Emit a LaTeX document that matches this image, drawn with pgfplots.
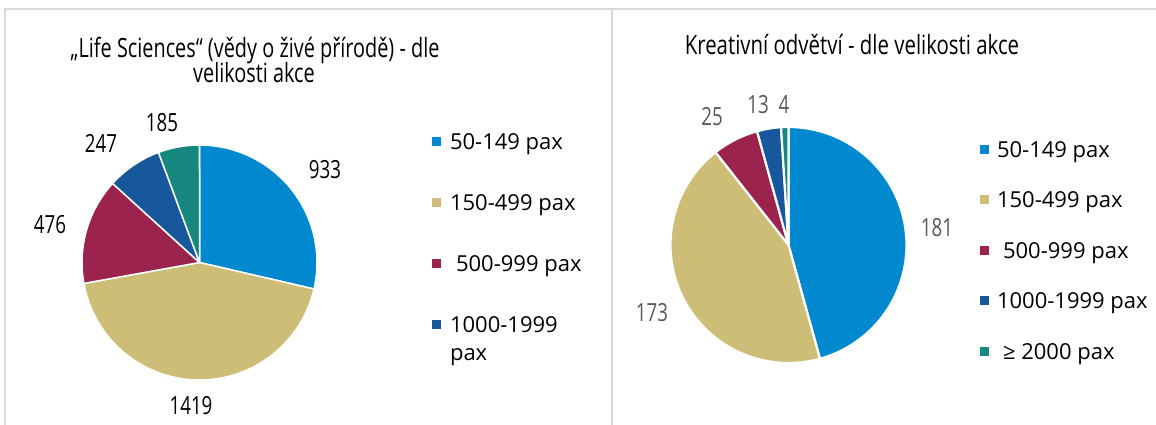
\documentclass[border=0pt]{standalone}
\usepackage{pgfplots}
\pgfplotsset{compat=1.18}
\usepackage{fontspec}
\setmainfont{Open Sans}
\newfontfamily\titfont[FakeStretch=0.75]{Open Sans}
\newfontfamily\titfontR[FakeStretch=0.77]{Open Sans}
\newfontfamily\labfont[FakeStretch=0.75]{Open Sans}
\definecolor{cBlue}{HTML}{0089CF}
\definecolor{cTan}{HTML}{CDBD77}
\definecolor{cMar}{HTML}{9B234D}
\definecolor{cDark}{HTML}{17579B}
\definecolor{cTeal}{HTML}{15877F}
\definecolor{frame}{HTML}{D9D9D9}
\definecolor{labgray}{HTML}{595959}
\begin{document}
\begin{tikzpicture}
% Life Sciences values
\def\LA{933}\def\LB{1419}\def\LC{476}\def\LD{247}\def\LE{185}
\pgfmathsetmacro\LT{\LA+\LB+\LC+\LD+\LE}
\pgfmathsetmacro\Lp{\LA/\LT*360}
\pgfmathsetmacro\Lq{(\LA+\LB)/\LT*360}
\pgfmathsetmacro\Lr{(\LA+\LB+\LC)/\LT*360}
\pgfmathsetmacro\Ls{(\LA+\LB+\LC+\LD)/\LT*360}
% Kreativni values
\def\RA{181}\def\RB{173}\def\RC{25}\def\RD{13}\def\RE{4}
\pgfmathsetmacro\RT{\RA+\RB+\RC+\RD+\RE}
\pgfmathsetmacro\Rp{\RA/\RT*360}
\pgfmathsetmacro\Rq{(\RA+\RB)/\RT*360}
\pgfmathsetmacro\Rr{(\RA+\RB+\RC)/\RT*360}
\pgfmathsetmacro\Rs{(\RA+\RB+\RC+\RD)/\RT*360}
\def\legfont{\fontsize{22}{28}\selectfont}
%
\begin{axis}[at={(0pt,0pt)}, anchor=south west,
  scale only axis, width=612pt, height=425pt,
  xmin=0, xmax=612, ymin=0, ymax=425, y dir=reverse,
  hide axis, clip=false,
  legend image code/.code={\fill[#1,draw=none] (0pt,-4.5pt) rectangle (9pt,4.5pt);},
  legend cell align=left,
  legend style={at={(0.7059,0.6859)}, anchor=north west, draw=none, fill=none,
    inner sep=0pt, outer sep=0pt, row sep=45pt, column sep=9pt,
    nodes={inner sep=0pt, text height=16pt, text depth=0pt, font=\legfont}},
  every axis plot/.append style={draw=white, line width=1.5pt, line join=round, samples=80, variable=\t},
]
\addplot[fill=cBlue, domain=0:\Lp] ({199.5+117.5*sin(\t)},{262.5-117.5*cos(\t)}) -- (199.5,262.5) -- cycle;
\addlegendentry{50-149 pax}
\addplot[fill=cTan, domain=\Lp:\Lq] ({199.5+117.5*sin(\t)},{262.5-117.5*cos(\t)}) -- (199.5,262.5) -- cycle;
\addlegendentry{150-499 pax}
\addplot[fill=cMar, domain=\Lq:\Lr] ({199.5+117.5*sin(\t)},{262.5-117.5*cos(\t)}) -- (199.5,262.5) -- cycle;
\addlegendentry{\hspace{6pt}500-999 pax}
\addplot[fill=cDark, domain=\Lr:\Ls] ({199.5+117.5*sin(\t)},{262.5-117.5*cos(\t)}) -- (199.5,262.5) -- cycle;
\addlegendentry{\begin{tabular}[t]{@{}l@{}}1000-1999\\pax\end{tabular}}
\addplot[fill=cTeal, domain=\Ls:360] ({199.5+117.5*sin(\t)},{262.5-117.5*cos(\t)}) -- (199.5,262.5) -- cycle;
% frame
\draw[frame, line width=1.5pt] (5,425) -- (5,9) -- (612,9);
\draw[frame, line width=1.5pt] (612,9) -- (612,425);
% title
\node[anchor=base, font={\titfont\fontsize{26.5}{31}\selectfont}] at (255,58) {„Life Sciences“ (vědy o živé přírodě) - dle};
\node[anchor=base, font={\titfont\fontsize{26.5}{31}\selectfont}] at (254,83) {velikosti akce};
% data labels
\begin{scope}[every node/.style={font={\labfont\fontsize{25}{30}\selectfont}, inner sep=0pt}]
\node at (325,170) {933};
\node at (191,406) {1419};
\node at (50,225) {476};
\node at (101,143) {247};
\node at (162,123) {185};
\end{scope}
\end{axis}
%
\begin{axis}[at={(612pt,0pt)}, anchor=south west,
  scale only axis, width=544pt, height=425pt,
  xmin=612, xmax=1156, ymin=0, ymax=425, y dir=reverse,
  hide axis, clip=false,
  legend image code/.code={\fill[#1,draw=none] (0pt,-4.5pt) rectangle (9pt,4.5pt);},
  legend cell align=left,
  legend style={at={(0.6765,0.6671)}, anchor=north west, draw=none, fill=none,
    inner sep=0pt, outer sep=0pt, row sep=34.5pt, column sep=8pt,
    nodes={inner sep=0pt, text height=16pt, text depth=0pt, font=\legfont}},
  every axis plot/.append style={draw=white, line width=2.2pt, line join=round, samples=80, variable=\t},
]
\addplot[fill=cBlue, domain=0:\Rp] ({788.5+118*sin(\t)},{245-118*cos(\t)}) -- (788.5,245) -- cycle;
\addlegendentry{50-149 pax}
\addplot[fill=cTan, domain=\Rp:\Rq] ({788.5+118*sin(\t)},{245-118*cos(\t)}) -- (788.5,245) -- cycle;
\addlegendentry{150-499 pax}
\addplot[fill=cMar, domain=\Rq:\Rr] ({788.5+118*sin(\t)},{245-118*cos(\t)}) -- (788.5,245) -- cycle;
\addlegendentry{\hspace{6pt}500-999 pax}
\addplot[fill=cDark, domain=\Rr:\Rs] ({788.5+118*sin(\t)},{245-118*cos(\t)}) -- (788.5,245) -- cycle;
\addlegendentry{1000-1999 pax}
\addplot[fill=cTeal, domain=\Rs:360] ({788.5+118*sin(\t)},{245-118*cos(\t)}) -- (788.5,245) -- cycle;
\addlegendentry{\hspace{6pt}≥ 2000 pax}
\draw[frame, line width=1.5pt] (612,9) -- (1156,9);
\node[anchor=base, font={\titfontR\fontsize{26.5}{31}\selectfont}] at (852,55) {Kreativní odvětví - dle velikosti akce};
\begin{scope}[every node/.style={font={\labfont\fontsize{25}{30}\selectfont}, text=labgray, inner sep=0pt}]
\node at (937,228) {181};
\node at (652,313) {173};
\node at (712,117) {25};
\node at (758,105) {13};
\node at (784,105) {4};
\end{scope}
\end{axis}
\pgfresetboundingbox
\path (0pt,0pt) rectangle (1156pt,425pt);
\end{tikzpicture}
\end{document}
